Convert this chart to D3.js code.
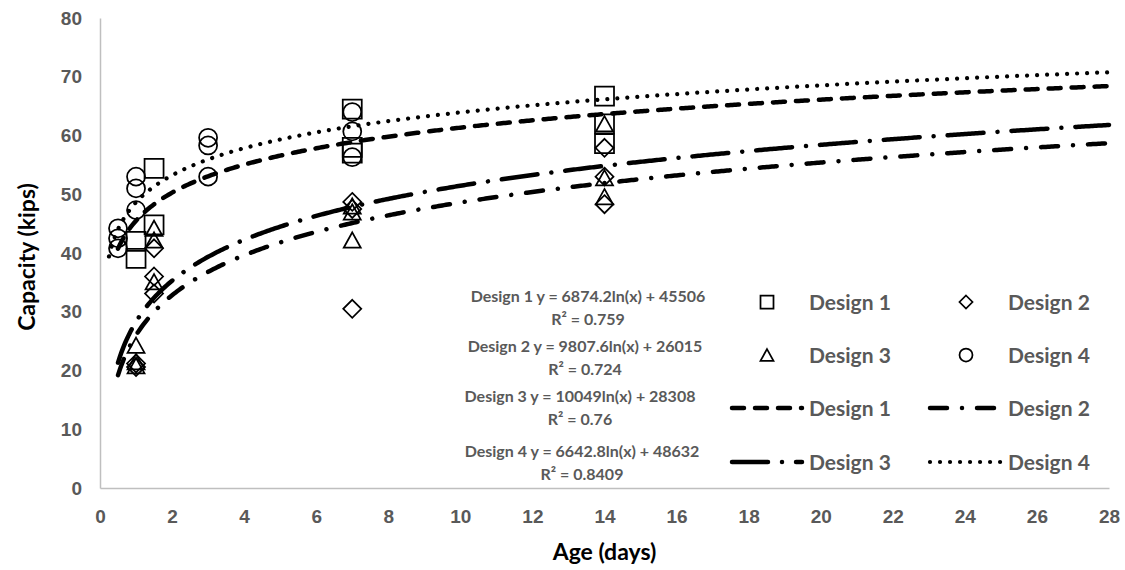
<!DOCTYPE html>
<html lang="en">
<head>
    <meta charset="utf-8">
    <title>Capacity vs Age</title>
    <style>
        body { margin: 0; background: #fff; }
        svg { display: block; font-family: Lato, "Open Sans", sans-serif; }
        .axis path { stroke: #bfbfbf; stroke-width: 1.5px; fill: none; }
        .axis text { font-size: 19px; font-weight: bold; fill: #595959; }
        .title { font-size: 23px; font-weight: bold; fill: #000; }
        .eq { font-size: 16px; font-weight: bold; fill: #595959; }
        .leg { font-size: 21px; font-weight: bold; fill: #595959; }
        .mark { fill: none; stroke: #000; stroke-width: 1.75px; }
        .trend { fill: none; stroke: #000; stroke-linecap: round; }
    </style>
</head>
<body>
<svg width="1125" height="570"></svg>
<script src="https://cdn.jsdelivr.net/npm/d3@7"></script>
<script>
    // data (age in days, capacity in kips)
    const d1Age = [1, 1, 1.5, 1.5, 7, 7, 7, 14, 14, 14];
    const d1Cap = [42, 39.1, 54.4, 44.8, 64.5, 58, 57, 66.7, 62, 58.6];

    const d2Age = [1, 1, 1.5, 1.5, 1.5, 7, 7, 7, 14, 14, 14];
    const d2Cap = [21.2, 20.6, 40.8, 36, 33.1, 48.7, 47.5, 30.5, 57.9, 53, 48.3];

    const d3Age = [1, 1, 1, 1.5, 1.5, 1.5, 7, 7, 7, 14, 14, 14];
    const d3Cap = [24.3, 21.5, 20.8, 44.2, 42.2, 35.1, 48, 47, 42.2, 62, 52.8, 49.6];

    const d4Age = [0.5, 0.5, 0.5, 1, 1, 1, 3, 3, 3, 7, 7, 7];
    const d4Cap = [44.2, 42.5, 40.8, 53, 51, 47.3, 59.6, 58.3, 53, 64, 60.7, 56.3];

    // log trendlines y = a ln(x) + b (in lbs)
    const trendA = [6874.2, 9807.6, 10049, 6642.8];
    const trendB = [45506, 26015, 28308, 48632];
    const trendFrom = [0.5, 0.5, 0.5, 0.25];
    const trendTo = 28;

    const eqLabels = [
        "Design 1 y = 6874.2ln(x) + 45506",
        "Design 2 y = 9807.6ln(x) + 26015",
        "Design 3 y = 10049ln(x) + 28308",
        "Design 4 y = 6642.8ln(x) + 48632"
    ];
    const r2Labels = ["R² = 0.759", "R² = 0.724", "R² = 0.76", "R² = 0.8409"];
    const seriesNames = ["Design 1", "Design 2", "Design 3", "Design 4"];

    const xTicks = d3.range(0, 29, 2);
    const yTicks = d3.range(0, 81, 10);

    const svg = d3.select("svg");

    const x = d3.scaleLinear().domain([0, 28]).range([100, 1109]);
    const y = d3.scaleLinear().domain([0, 80]).range([488, 18]);

    // marker shapes, size = width in px
    const square = {draw(c, s) { const h = s / 2; c.rect(-h, -h, s, s); }};
    const diamond = {draw(c, s) { const h = s / 2; c.moveTo(0, -h); c.lineTo(h, 0); c.lineTo(0, h); c.lineTo(-h, 0); c.closePath(); }};
    const triangle = {draw(c, s) { const h = s / 2, t = s * 0.45; c.moveTo(0, -t); c.lineTo(h, t); c.lineTo(-h, t); c.closePath(); }};
    const circle = {draw(c, s) { const r = s / 2; c.moveTo(r, 0); c.arc(0, 0, r, 0, 2 * Math.PI); }};
    const shapes = [square, diamond, triangle, circle];
    const shapeSize = [19, 18, 17, 18];
    const legShapeSize = [13, 13, 13, 13];

    const dashes = ["12,11", "17,15,0.01,15", "36,14,0.01,14", "0.01,10"];
    const widths = [4.5, 4.5, 4.5, 4.2];

    // axes
    svg.append("g")
        .attr("class", "axis")
        .attr("transform", "translate(0," + y(0) + ")")
        .call(d3.axisBottom(x).tickValues(xTicks).tickSize(0).tickPadding(22));

    svg.append("g")
        .attr("class", "axis")
        .attr("transform", "translate(" + x(0) + ",0)")
        .call(d3.axisLeft(y).tickValues(yTicks).tickSize(0).tickPadding(18));

    svg.append("text")
        .attr("class", "title")
        .attr("text-anchor", "middle")
        .attr("transform", "translate(35,257) rotate(-90)")
        .text("Capacity (kips)");

    svg.append("text")
        .attr("class", "title")
        .attr("text-anchor", "middle")
        .attr("x", (x(0) + x(28)) / 2)
        .attr("y", 560)
        .text("Age (days)");

    // scatter markers
    const series = [[d1Age, d1Cap], [d2Age, d2Cap], [d3Age, d3Cap], [d4Age, d4Cap]];
    series.forEach(function (s, i) {
        const pts = s[0].map(function (a, j) { return {age: a, cap: s[1][j]}; });
        svg.append("g").selectAll("path")
            .data(pts)
            .enter()
            .append("path")
            .attr("class", "mark")
            .attr("transform", function (d) { return "translate(" + x(d.age) + "," + y(d.cap) + ")"; })
            .attr("d", d3.symbol().type(shapes[i]).size(shapeSize[i]));
    });

    // trend lines
    const line = d3.line()
        .x(function (d) { return x(d[0]); })
        .y(function (d) { return y(d[1]); });

    trendA.forEach(function (a, i) {
        const ages = d3.range(trendFrom[i], trendTo, 0.05).concat([trendTo]);
        const pts = ages.map(function (t) { return [t, (a * Math.log(t) + trendB[i]) / 1000]; });
        svg.append("path")
            .datum(pts)
            .attr("class", "trend")
            .attr("stroke-width", widths[i])
            .attr("stroke-dasharray", dashes[i])
            .attr("d", line);
    });

    // trendline equations
    const eqX = [588, 585, 580, 582];
    const eqY = [302, 352, 402, 457];
    eqLabels.forEach(function (t, i) {
        svg.append("text").attr("class", "eq").attr("text-anchor", "middle")
            .attr("x", eqX[i]).attr("y", eqY[i]).text(t);
        svg.append("text").attr("class", "eq").attr("text-anchor", "middle")
            .attr("x", eqX[i]).attr("y", eqY[i] + 23).text(r2Labels[i]);
    });

    // legend
    const legRows = [302, 355, 408, 462];
    const legMarkX = [767, 966];
    const legTextX = [809, 1008];
    const legLine = [[732, 802], [930, 1003]];

    seriesNames.forEach(function (n, i) {
        const col = i % 2, row = Math.floor(i / 2);
        svg.append("path")
            .attr("class", "mark")
            .attr("transform", "translate(" + legMarkX[col] + "," + legRows[row] + ")")
            .attr("d", d3.symbol().type(shapes[i]).size(legShapeSize[i]));
        svg.append("text").attr("class", "leg")
            .attr("x", legTextX[col]).attr("y", legRows[row]).attr("dy", "0.36em")
            .text(n);
    });

    seriesNames.forEach(function (n, i) {
        const col = i % 2, row = 2 + Math.floor(i / 2);
        svg.append("path")
            .attr("class", "trend")
            .attr("stroke-width", widths[i])
            .attr("stroke-dasharray", dashes[i])
            .attr("d", "M" + legLine[col][0] + "," + legRows[row] + "H" + legLine[col][1]);
        svg.append("text").attr("class", "leg")
            .attr("x", legTextX[col]).attr("y", legRows[row]).attr("dy", "0.36em")
            .text(n);
    });
</script>
</body>
</html>
